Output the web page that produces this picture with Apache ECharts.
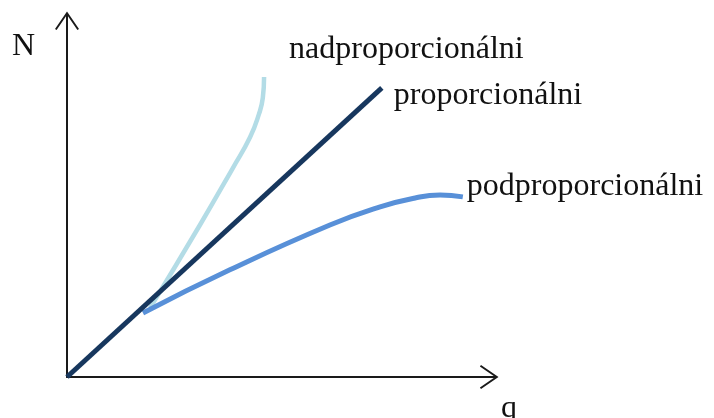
<!DOCTYPE html>
<html>
<head>
<meta charset="utf-8">
<script src="https://cdn.jsdelivr.net/npm/echarts@6/dist/echarts.min.js"></script>
<style>
  html, body { margin: 0; padding: 0; background: #fff; }
  #chart { width: 714px; height: 418px; }
</style>
</head>
<body>
<div id="chart"></div>
<script>
// Values (q on x, N on y, both on a 0-100 scale)
const seriesNames = ['nadproporcionálni', 'podproporcionálni', 'proporcionálni'];
const nadQ = [19.7, 31.5, 39.3, 43.4, 45.5, 46.4, 46.7];
const nadN = [19.4, 42.7, 58.7, 67.4, 73.9, 78.4, 84.3];
const podQ = [18.0, 38.6, 62.3, 74.2, 82.5, 88.4, 93.8];
const podN = [18.0, 30.1, 42.7, 47.8, 50.3, 51.1, 50.6];
const propQ = [0, 74.6];
const propN = [0, 81.2];
const axisNames = ['q', 'N'];

const zip = (xs, ys) => xs.map((x, i) => [x, ys[i]]);

const arrowPath = 'path://M12,0 L24,17.5 L22.4,18.6 L13,4.8 L13,19 L11,19 L11,4.8 L1.6,18.6 L0,17.5 Z';
const serif = '"Liberation Serif", "Times New Roman", serif';

const chart = echarts.init(document.getElementById('chart'), null, { renderer: 'canvas' });

const labelBase = {
  show: true,
  fontFamily: serif,
  fontSize: 32,
  color: '#111',
  formatter: p => p.seriesName
};

chart.setOption({
  animation: false,
  backgroundColor: '#fff',
  grid: { left: 67, right: 225, top: 21, bottom: 41 },
  xAxis: {
    type: 'value', min: 0, max: 100,
    axisLine: { show: true, onZero: false, lineStyle: { color: '#1a1a1a', width: 2 },
      symbol: ['none', arrowPath], symbolSize: [24, 19] },
    axisTick: { show: false }, axisLabel: { show: false }, splitLine: { show: false }
  },
  yAxis: {
    type: 'value', min: 0, max: 100,
    axisLine: { show: true, onZero: false, lineStyle: { color: '#1a1a1a', width: 2 },
      symbol: ['none', arrowPath], symbolSize: [24, 19] },
    axisTick: { show: false }, axisLabel: { show: false }, splitLine: { show: false }
  },
  graphic: [
    { type: 'text', left: 12, top: 31, style: { text: axisNames[1], font: '32px ' + serif, fill: '#111' } },
    { type: 'text', left: 501, top: 393, style: { text: axisNames[0], font: '32px ' + serif, fill: '#111' } }
  ],
  series: [
    {
      name: seriesNames[0], type: 'line', data: zip(nadQ, nadN), smooth: 0.5,
      showSymbol: false, clip: false,
      lineStyle: { color: '#b3dce6', width: 4.5 },
      endLabel: Object.assign({}, labelBase, { offset: [17, -27] })
    },
    {
      name: seriesNames[1], type: 'line', data: zip(podQ, podN), smooth: 0.5,
      showSymbol: false, clip: false,
      lineStyle: { color: '#5890d8', width: 5 },
      endLabel: Object.assign({}, labelBase, { offset: [-4, -10] })
    },
    {
      name: seriesNames[2], type: 'line', data: zip(propQ, propN),
      showSymbol: false, clip: false,
      lineStyle: { color: '#17375e', width: 5 },
      endLabel: Object.assign({}, labelBase, { offset: [4, 8] })
    }
  ]
});
</script>
</body>
</html>
